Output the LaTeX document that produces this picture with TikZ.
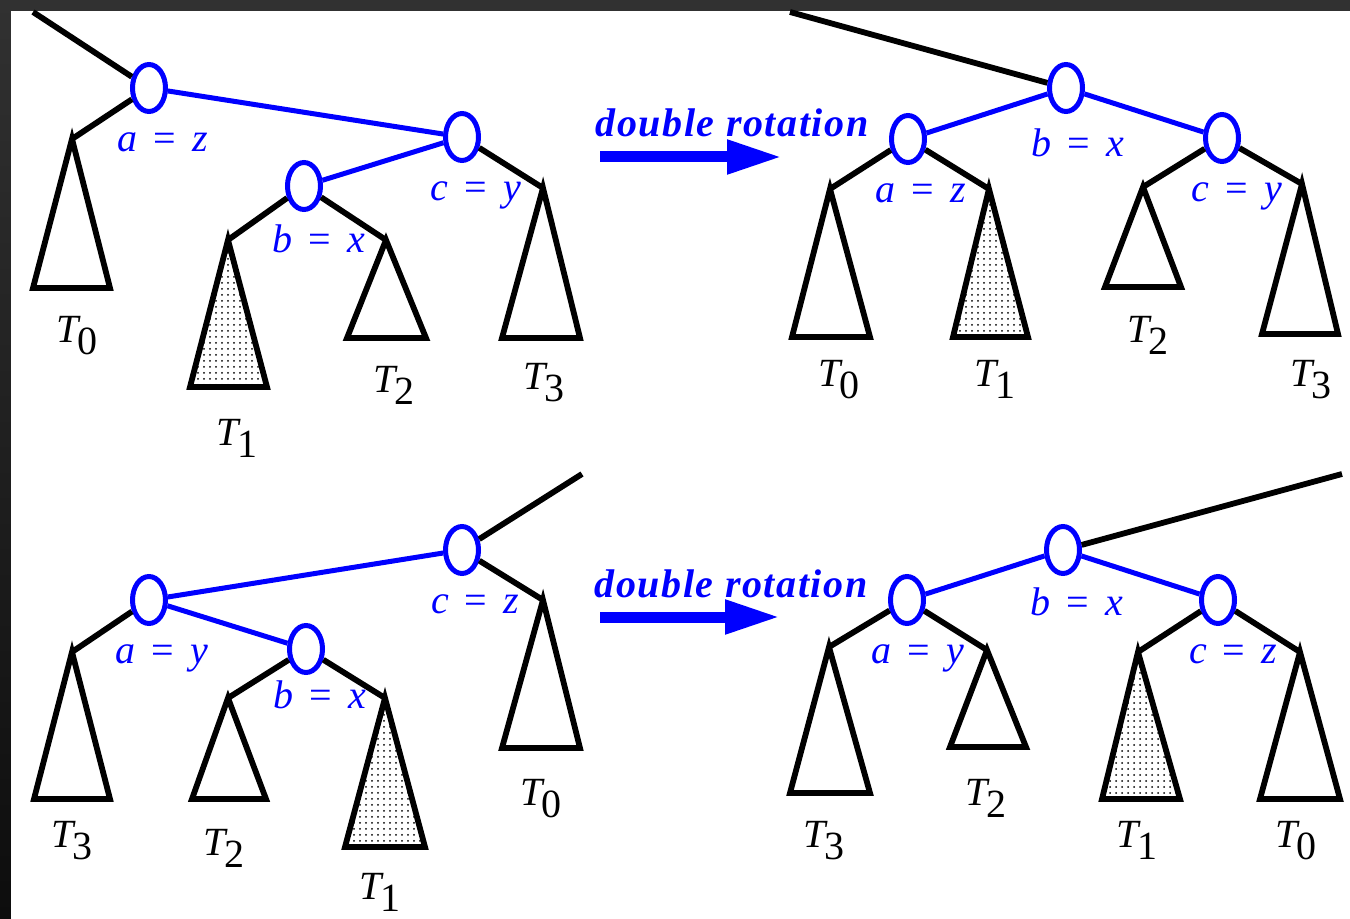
\documentclass[tikz,border=0pt]{standalone}
\usepackage{fontspec}
\setmainfont{Liberation Serif}
\usetikzlibrary{positioning,shapes.geometric,arrows.meta,patterns}

\definecolor{framelight}{HTML}{313131}
\definecolor{framedark}{HTML}{0D0D0D}
\definecolor{nodeblue}{RGB}{0,0,255}

\newcommand{\Tsub}[1]{\textit{T}\kern-0.1em\raisebox{-0.3em}{#1}}
\newcommand{\eqsign}{\hspace{0.4em}=\hspace{0.4em}}

\tikzset{
  bnode/.style={ellipse,draw=nodeblue,line width=2.5pt,minimum width=16.5pt,minimum height=23.5pt,inner sep=0pt},
  bedge/.style={draw=nodeblue,line width=2.5pt},
  kedge/.style={draw=black,line width=2.9pt},
  tri/.style={draw=black,line width=2.9pt},
  trishaded/.style={tri,pattern=dots},
  tlab/.style={anchor=base,inner sep=0pt,font=\fontsize{20}{24}\selectfont},
  blab/.style={anchor=base,inner sep=0pt,text=nodeblue,font=\fontsize{20}{24}\selectfont},
  rotlab/.style={anchor=base,inner sep=0pt,text=nodeblue,font=\fontsize{20}{24}\selectfont\bfseries\itshape\addfontfeatures{LetterSpace=4}},
  rotarrow/.style={draw=nodeblue,line width=5.5pt,-{Triangle[length=27.5pt,width=16pt]}}
}

\begin{document}
\begin{tikzpicture}[x=0.5pt,y=-0.5pt]
  \useasboundingbox (0,0) rectangle (1350,919);
  % frame and page
  \shade[top color=framelight,bottom color=framedark] (0,0) rectangle (1350,919);
  \fill[white] (11,11) rectangle (1350,919);

  % top left: before
  \coordinate (p1) at (33,12);
  \node[bnode] (a1) at (149,88) {};
  \node[bnode] (c1) at (462,137) {};
  \node[bnode] (b1) at (304,186) {};
  \coordinate (T0-1) at (72,139);
  \coordinate (T1-1) at (228,240);
  \coordinate (T2-1) at (386,240);
  \coordinate (T3-1) at (543,188);
  \draw[kedge] (p1) -- (a1);
  \draw[bedge] (a1) -- (c1);
  \draw[bedge] (c1) -- (b1);
  \draw[kedge] (a1) -- (T0-1);
  \draw[kedge] (b1) -- (T1-1);
  \draw[kedge] (b1) -- (T2-1);
  \draw[kedge] (c1) -- (T3-1);
  \draw[tri] (T0-1) -- (33,288) -- (110,288) -- cycle;
  \draw[trishaded] (T1-1) -- (190,387) -- (267,387) -- cycle;
  \draw[tri] (T2-1) -- (347,338) -- (426,338) -- cycle;
  \draw[tri] (T3-1) -- (502,338) -- (580,338) -- cycle;
  \node[tlab] (L0-1) at (77,343) {\Tsub{0}};
  \node[tlab] (L1-1) at (237,446) {\Tsub{1}};
  \node[tlab] (L2-1) at (394,393) {\Tsub{2}};
  \node[tlab] (L3-1) at (544,390) {\Tsub{3}};
  \node[blab] (la1) at (163,152) {\textit{a}\eqsign\textit{z}};
  \node[blab] (lb1) at (319,253) {\textit{b}\eqsign\textit{x}};
  \node[blab] (lc1) at (476,201) {\textit{c}\eqsign\textit{y}};

  % top arrow
  \coordinate (ar1s) at (600,157);
  \coordinate (ar1e) at (782,157);
  \draw[rotarrow] (ar1s) -- (ar1e);
  \node[rotlab] (rot1) at (732,137) {double rotation};

  % top right: after
  \coordinate (p2) at (790,12);
  \node[bnode] (b2) at (1066,88) {};
  \node[bnode] (a2) at (908,139) {};
  \node[bnode] (c2) at (1222,138) {};
  \coordinate (T0-2) at (830,189);
  \coordinate (T1-2) at (989,189);
  \coordinate (T2-2) at (1143,187);
  \coordinate (T3-2) at (1302,184);
  \draw[kedge] (p2) -- (b2);
  \draw[bedge] (b2) -- (a2);
  \draw[bedge] (b2) -- (c2);
  \draw[kedge] (a2) -- (T0-2);
  \draw[kedge] (a2) -- (T1-2);
  \draw[kedge] (c2) -- (T2-2);
  \draw[kedge] (c2) -- (T3-2);
  \draw[tri] (T0-2) -- (792,337) -- (870,337) -- cycle;
  \draw[trishaded] (T1-2) -- (953,337) -- (1028,337) -- cycle;
  \draw[tri] (T2-2) -- (1105,287) -- (1181,287) -- cycle;
  \draw[tri] (T3-2) -- (1262,334) -- (1338,334) -- cycle;
  \node[tlab] (L0-2) at (839,387) {\Tsub{0}};
  \node[tlab] (L1-2) at (995,387) {\Tsub{1}};
  \node[tlab] (L2-2) at (1148,343) {\Tsub{2}};
  \node[tlab] (L3-2) at (1311,387) {\Tsub{3}};
  \node[blab] (la2) at (921,203) {\textit{a}\eqsign\textit{z}};
  \node[blab] (lb2) at (1078,157) {\textit{b}\eqsign\textit{x}};
  \node[blab] (lc2) at (1237,202) {\textit{c}\eqsign\textit{y}};

  % bottom left: before
  \coordinate (p3) at (582,474);
  \node[bnode] (c3) at (462,550) {};
  \node[bnode] (a3) at (149,600) {};
  \node[bnode] (b3) at (306,649) {};
  \coordinate (T3-3) at (72,652);
  \coordinate (T2-3) at (228,698);
  \coordinate (T1-3) at (385,698);
  \coordinate (T0-3) at (543,600);
  \draw[kedge] (p3) -- (c3);
  \draw[bedge] (c3) -- (a3);
  \draw[bedge] (a3) -- (b3);
  \draw[kedge] (a3) -- (T3-3);
  \draw[kedge] (b3) -- (T2-3);
  \draw[kedge] (b3) -- (T1-3);
  \draw[kedge] (c3) -- (T0-3);
  \draw[tri] (T3-3) -- (34,799) -- (110,799) -- cycle;
  \draw[tri] (T2-3) -- (192,799) -- (266,799) -- cycle;
  \draw[trishaded] (T1-3) -- (345,847) -- (425,847) -- cycle;
  \draw[tri] (T0-3) -- (502,748) -- (580,748) -- cycle;
  \node[tlab] (L3-3) at (72,847) {\Tsub{3}};
  \node[tlab] (L2-3) at (224,855) {\Tsub{2}};
  \node[tlab] (L1-3) at (380,899) {\Tsub{1}};
  \node[tlab] (L0-3) at (541,805) {\Tsub{0}};
  \node[blab] (la3) at (162,663) {\textit{a}\eqsign\textit{y}};
  \node[blab] (lb3) at (320,708) {\textit{b}\eqsign\textit{x}};
  \node[blab] (lc3) at (475,613) {\textit{c}\eqsign\textit{z}};

  % bottom arrow
  \coordinate (ar2s) at (600,617);
  \coordinate (ar2e) at (780,617);
  \draw[rotarrow] (ar2s) -- (ar2e);
  \node[rotlab] (rot2) at (731,597) {double rotation};

  % bottom right: after
  \coordinate (p4) at (1342,474);
  \node[bnode] (b4) at (1063,550) {};
  \node[bnode] (a4) at (907,600) {};
  \node[bnode] (c4) at (1218,600) {};
  \coordinate (T3-4) at (829,647);
  \coordinate (T2-4) at (987,650);
  \coordinate (T1-4) at (1138,652);
  \coordinate (T0-4) at (1300,652);
  \draw[kedge] (p4) -- (b4);
  \draw[bedge] (b4) -- (a4);
  \draw[bedge] (b4) -- (c4);
  \draw[kedge] (a4) -- (T3-4);
  \draw[kedge] (a4) -- (T2-4);
  \draw[kedge] (c4) -- (T1-4);
  \draw[kedge] (c4) -- (T0-4);
  \draw[tri] (T3-4) -- (790,793) -- (870,793) -- cycle;
  \draw[tri] (T2-4) -- (950,747) -- (1026,747) -- cycle;
  \draw[trishaded] (T1-4) -- (1102,799) -- (1180,799) -- cycle;
  \draw[tri] (T0-4) -- (1260,799) -- (1340,799) -- cycle;
  \node[tlab] (L3-4) at (824,847) {\Tsub{3}};
  \node[tlab] (L2-4) at (986,805) {\Tsub{2}};
  \node[tlab] (L1-4) at (1137,847) {\Tsub{1}};
  \node[tlab] (L0-4) at (1296,847) {\Tsub{0}};
  \node[blab] (la4) at (918,663) {\textit{a}\eqsign\textit{y}};
  \node[blab] (lb4) at (1077,615) {\textit{b}\eqsign\textit{x}};
  \node[blab] (lc4) at (1233,663) {\textit{c}\eqsign\textit{z}};
\end{tikzpicture}
\end{document}
